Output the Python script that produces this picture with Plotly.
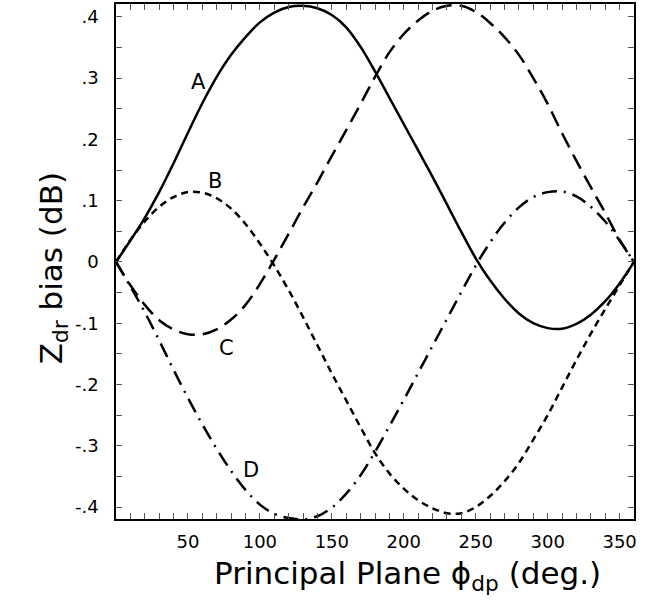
import plotly.graph_objects as go

phi = [0, 10, 20, 30, 40, 50, 60, 70, 80, 90, 100, 110, 120, 130, 140, 150, 160, 170, 180,
       190, 200, 210, 220, 230, 240, 250, 260, 270, 280, 290, 300, 310, 320, 330, 340, 350, 360]

curve_a = [0, 0.035, 0.072, 0.114, 0.161, 0.211, 0.259, 0.302, 0.338, 0.367, 0.391, 0.407,
           0.416, 0.418, 0.414, 0.403, 0.383, 0.351, 0.311, 0.268, 0.225, 0.182, 0.139, 0.094,
           0.049, 0.006, -0.030, -0.060, -0.084, -0.100, -0.108, -0.109, -0.101, -0.086,
           -0.064, -0.035, 0]
curve_b = [0, 0.036, 0.066, 0.090, 0.106, 0.114, 0.113, 0.104, 0.087, 0.062, 0.030, -0.006,
           -0.046, -0.090, -0.136, -0.182, -0.226, -0.270, -0.312, -0.345, -0.370, -0.389,
           -0.402, -0.410, -0.410, -0.400, -0.382, -0.358, -0.328, -0.290, -0.250, -0.205,
           -0.160, -0.117, -0.077, -0.038, 0]
curve_c = [0, -0.038, -0.070, -0.095, -0.110, -0.118, -0.118, -0.110, -0.094, -0.070, -0.036,
           0.004, 0.046, 0.089, 0.130, 0.173, 0.215, 0.258, 0.302, 0.342, 0.372, 0.394, 0.410,
           0.418, 0.418, 0.408, 0.390, 0.367, 0.338, 0.300, 0.258, 0.210, 0.165, 0.122, 0.080,
           0.036, 0]
curve_d = [0, -0.040, -0.082, -0.128, -0.176, -0.222, -0.265, -0.305, -0.341, -0.372, -0.396,
           -0.411, -0.418, -0.420, -0.415, -0.401, -0.378, -0.348, -0.310, -0.268, -0.225,
           -0.181, -0.137, -0.093, -0.049, -0.006, 0.032, 0.064, 0.089, 0.106, 0.114, 0.115,
           0.107, 0.090, 0.066, 0.035, 0]

x_ticks = [50, 100, 150, 200, 250, 300, 350]
y_ticks = [0.4, 0.3, 0.2, 0.1, 0, -0.1, -0.2, -0.3, -0.4]
y_ticktext = [".4", ".3", ".2", ".1", "0", "-.1", "-.2", "-.3", "-.4"]

labels = ["A", "B", "C", "D"]
label_x = [57, 69, 77, 94]
label_y = [0.294, 0.132, -0.14, -0.34]

font = "DejaVu Sans, Verdana, sans-serif"

fig = go.Figure()
styles = ["solid", "7px,5px", "16px,8px", "15px,7px,2px,7px"]
for ys, dash, name in zip([curve_a, curve_b, curve_c, curve_d], styles, labels):
    fig.add_trace(go.Scatter(x=phi, y=ys, mode="lines", name=name,
                             line=dict(color="black", width=2.5, dash=dash, shape="spline"),
                             showlegend=False))

for t, xx, yy in zip(labels, label_x, label_y):
    fig.add_annotation(x=xx, y=yy, text=t, showarrow=False,
                       font=dict(family=font, size=21, color="black"))

axis_common = dict(showgrid=False, zeroline=False, showline=True, linecolor="black",
                   linewidth=1.5, mirror="allticks", ticks="inside", ticklen=6,
                   tickcolor="#555", tickfont=dict(family=font, size=18, color="black"))

fig.update_xaxes(range=[0, 360], tickvals=x_ticks, ticklabelstandoff=6,
                 minor=dict(dtick=10, ticks="inside", ticklen=6, tickcolor="#555"),
                 **axis_common)
fig.update_yaxes(range=[-0.4195, 0.421], tickvals=y_ticks, ticktext=y_ticktext,
                 ticklabelstandoff=12,
                 minor=dict(dtick=0.05, ticks="inside", ticklen=6, tickcolor="#555"),
                 **axis_common)

fig.add_annotation(xref="paper", yref="paper", x=-0.165, y=0.487,
                   text="Z<sub>dr</sub> bias (dB)", textangle=-90, showarrow=False,
                   font=dict(family=font, size=31, color="black"))
fig.add_annotation(xref="paper", yref="paper", x=0.562, y=-0.11, yanchor="middle",
                   text="Principal Plane \u03d5<sub>dp</sub> (deg.)", showarrow=False,
                   font=dict(family=font, size=31, color="black"))

fig.update_layout(width=652, height=606, plot_bgcolor="white", paper_bgcolor="white",
                  margin=dict(l=116, r=18, t=2, b=87))

fig.write_html("out.html")
